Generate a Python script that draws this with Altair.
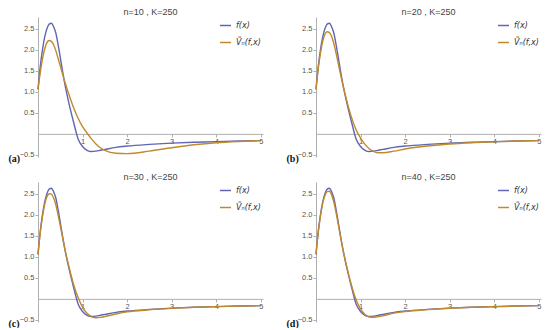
import altair as alt
import pandas as pd

# sample abscissae
x_vals = [0, 0.05, 0.1, 0.15, 0.2, 0.25, 0.3, 0.35, 0.4, 0.45, 0.5, 0.55, 0.6, 0.7,
          0.8, 0.9, 1.0, 1.1, 1.2, 1.3, 1.4, 1.5, 1.75, 2.0, 2.5, 3.0, 3.5, 4.0, 4.5, 5.0]

# f(x)
f_vals = [1.06, 1.6, 2.0, 2.3, 2.5, 2.61, 2.63, 2.55, 2.4, 2.13, 1.82, 1.5, 1.2, 0.7,
          0.27, -0.12, -0.3, -0.39, -0.42, -0.41, -0.39, -0.37, -0.32, -0.29, -0.25,
          -0.22, -0.2, -0.185, -0.17, -0.16]

# V_n(f,x) for n = 10, 20, 30, 40
v10 = [1.06, 1.45, 1.78, 2.02, 2.17, 2.22, 2.2, 2.12, 1.98, 1.8, 1.62, 1.43, 1.25, 0.92,
       0.62, 0.37, 0.17, 0.02, -0.12, -0.24, -0.33, -0.39, -0.46, -0.47, -0.41,
       -0.33, -0.26, -0.21, -0.18, -0.16]
v20 = [1.06, 1.55, 1.92, 2.2, 2.37, 2.43, 2.41, 2.32, 2.15, 1.92, 1.67, 1.42, 1.18, 0.75,
       0.38, 0.1, -0.1, -0.25, -0.36, -0.42, -0.45, -0.45, -0.41, -0.36, -0.29,
       -0.24, -0.21, -0.19, -0.17, -0.16]
v30 = [1.06, 1.57, 1.95, 2.25, 2.43, 2.5, 2.49, 2.4, 2.24, 2.0, 1.74, 1.47, 1.2, 0.74,
       0.34, 0.03, -0.2, -0.34, -0.42, -0.45, -0.44, -0.42, -0.36, -0.31, -0.26,
       -0.225, -0.2, -0.185, -0.17, -0.16]
v40 = [1.06, 1.58, 1.97, 2.27, 2.46, 2.55, 2.56, 2.48, 2.3, 2.05, 1.77, 1.48, 1.2, 0.72,
       0.31, -0.02, -0.24, -0.37, -0.43, -0.44, -0.42, -0.4, -0.34, -0.3, -0.255,
       -0.222, -0.2, -0.185, -0.17, -0.16]

panel_n = [10, 20, 30, 40]
panel_tags = ["(a)", "(b)", "(c)", "(d)"]
panel_series = [v10, v20, v30, v40]
series_names = ["f(x)", "Ṽₙ(f,x)"]
colors = ["#6066b2", "#c08a2c"]

x_ticks = [1, 2, 3, 4, 5]
y_ticks = [-0.5, 0.5, 1.0, 1.5, 2.0, 2.5]

XMIN, XMAX = 0, 5.05
YMIN, YMAX = -0.55, 2.78
W, H = 225, 140


def panel(n, tag, vals):
    rows = []
    for xv, yv in zip(x_vals, f_vals):
        rows.append({"x": xv, "y": yv, "s": series_names[0], "o": 0})
    for xv, yv in zip(x_vals, vals):
        rows.append({"x": xv, "y": yv, "s": series_names[1], "o": 1})
    df = pd.DataFrame(rows)
    x_off = -H * (0 - YMIN) / (YMAX - YMIN)
    return (
        alt.Chart(df, title=alt.Title(f"n={n} , K=250", fontSize=9, fontWeight="normal",
                                      color="#444444", font="Liberation Sans", offset=0))
        .mark_line(strokeWidth=1.4, interpolate="monotone")
        .encode(
            x=alt.X("x:Q", scale=alt.Scale(domain=[XMIN, XMAX], nice=False, zero=False),
                    axis=alt.Axis(values=x_ticks, format="d", title=None, offset=x_off,
                                  labelPadding=1, labelFontSize=7.5, grid=False)),
            y=alt.Y("y:Q", scale=alt.Scale(domain=[YMIN, YMAX], nice=False, zero=False),
                    axis=alt.Axis(values=y_ticks, format=".1f", grid=False,
                                  labelFontSize=7.5, labelPadding=1,
                                  title=tag, titleAngle=0, titleX=-30, titleY=H + 1,
                                  titleAlign="left", titleBaseline="middle",
                                  titleFont="Liberation Serif", titleFontSize=10,
                                  titleFontWeight="bold", titleColor="#111111")),
            color=alt.Color("s:N", scale=alt.Scale(domain=series_names, range=colors),
                            legend=alt.Legend(title=None, orient="top-right", offset=2,
                                              symbolType="stroke", symbolStrokeWidth=1.5,
                                              symbolSize=120, labelFontSize=8,
                                              labelFont="DejaVu Sans", labelFontStyle="italic",
                                              labelColor="#333333", rowPadding=6)),
            order="o:Q",
        )
        .properties(width=W, height=H)
    )


charts = [panel(n, t, v) for n, t, v in zip(panel_n, panel_tags, panel_series)]
row1 = alt.hconcat(charts[0], charts[1], spacing=22).resolve_scale(color="independent")
row2 = alt.hconcat(charts[2], charts[3], spacing=22).resolve_scale(color="independent")
chart = (
    alt.vconcat(row1, row2, spacing=10)
    .resolve_scale(color="independent")
    .properties(padding=0)
    .configure_view(stroke=None)
    .configure_axis(domainColor="#b0b0b0", tickColor="#b0b0b0", tickSize=3,
                    labelColor="#555555", labelFont="Liberation Sans")
)
chart.save("out.html", embed_options={"renderer": "svg", "actions": False})
